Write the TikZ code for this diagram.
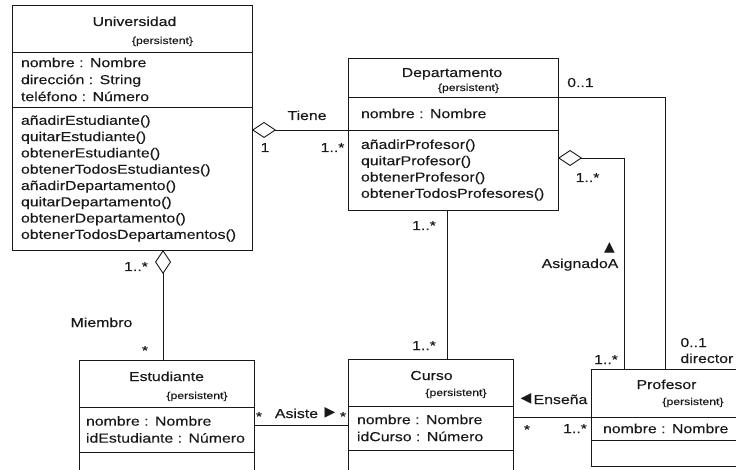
\documentclass[tikz,border=0pt]{standalone}
\usepackage{fontspec}
\setmainfont[FakeStretch=1.22,FakeBold=0.2]{Liberation Sans}
\newfontfamily\symfont{DejaVu Sans}
\usetikzlibrary{positioning,arrows.meta}

\begin{document}
\begin{tikzpicture}[x=1pt,y=-1pt,line width=0.9pt,color=black!90,
    classhead/.style={draw,inner sep=0pt,outer sep=0pt},
    attrs/.style={draw,align=left,inner ysep=0pt,outer sep=0pt,
      font=\fontsize{13}{17}\selectfont},
    ops/.style={attrs,font=\fontsize{13}{16.3}\selectfont},
    lbl/.style={anchor=base,inner sep=0pt,font=\fontsize{13}{15}\selectfont},
    tag/.style={lbl,font=\fontsize{10}{12}\selectfont},
    tri/.style={inner sep=0pt,font=\symfont\fontsize{14}{16}\selectfont},
    agg/.style={{Diamond[open,length=24pt,width=16pt]}-}]
  \useasboundingbox (0,0) rectangle (736,470);
  \clip (0,0) rectangle (736,470);

  % Universidad
  \node[classhead,minimum width=240pt,minimum height=47pt] (uni) at (132,28.5) {};
  \node[attrs,text width=222pt,inner xsep=9pt,minimum height=55pt,below=0pt of uni] (uni-a)
    {nombre : Nombre\\dirección : String\\teléfono : Número};
  \node[ops,text width=222pt,inner xsep=9pt,minimum height=143pt,below=0pt of uni-a] (uni-o)
    {añadirEstudiante()\\quitarEstudiante()\\obtenerEstudiante()\\obtenerTodosEstudiantes()\\
     añadirDepartamento()\\quitarDepartamento()\\obtenerDepartamento()\\obtenerTodosDepartamentos()};
  \node[lbl] at (134.5,26) {Universidad};
  \node[tag] at (162.5,44) {\{persistent\}};

  % Departamento
  \node[classhead,minimum width=210pt,minimum height=39pt] (dep) at (453,77.5) {};
  \node[attrs,text width=184pt,inner xsep=13pt,minimum height=33pt,below=0pt of dep] (dep-a)
    {nombre : Nombre};
  \node[ops,text width=184pt,inner xsep=13pt,minimum height=80pt,below=0pt of dep-a] (dep-o)
    {añadirProfesor()\\quitarProfesor()\\obtenerProfesor()\\obtenerTodosProfesores()};
  \node[lbl] at (452,77) {Departamento};
  \node[tag] at (468.5,91) {\{persistent\}};

  % Estudiante
  \node[classhead,minimum width=175pt,minimum height=47pt] (est) at (166.5,383.5) {};
  \node[attrs,text width=163pt,inner xsep=6pt,minimum height=45pt,below=0pt of est] (est-a)
    {\hspace*{1pt}nombre : Nombre\\\hspace*{1pt}idEstudiante : Número};
  \node[ops,text width=163pt,inner xsep=6pt,minimum height=30pt,below=0pt of est-a] (est-o) {};
  \node[lbl] at (166.5,381) {Estudiante};
  \node[tag] at (197,399) {\{persistent\}};

  % Curso
  \node[classhead,minimum width=165pt,minimum height=47pt] (cur) at (430.5,382.5) {};
  \node[attrs,text width=147pt,inner xsep=9pt,minimum height=44pt,below=0pt of cur] (cur-a)
    {nombre : Nombre\\idCurso : Número};
  \node[ops,text width=147pt,inner xsep=9pt,minimum height=30pt,below=0pt of cur-a] (cur-o) {};
  \node[lbl] at (431.5,380) {Curso};
  \node[tag] at (456,396) {\{persistent\}};

  % Profesor
  \node[classhead,minimum width=159pt,minimum height=48pt] (prof) at (670.5,393) {};
  \node[attrs,text width=135pt,inner xsep=12pt,minimum height=23pt,below=0pt of prof] (prof-a)
    {nombre : Nombre};
  \node[ops,text width=135pt,inner xsep=12pt,minimum height=26pt,below=0pt of prof-a] (prof-o) {};
  \node[lbl] at (666.5,389) {Profesor};
  \node[tag] at (693,405) {\{persistent\}};

  % Tiene
  \draw[agg] (uni-o.east |- dep-o.north west) -- (dep-o.north west);
  \node[lbl] at (307,120) {Tiene};
  \node[lbl] at (265,152) {1};
  \node[lbl] at (332.5,152) {1..*};

  % Miembro
  \draw[agg] ([xshift=31pt]uni-o.south) coordinate (um) -- (um |- est.north);
  \node[lbl] at (136,271) {1..*};
  \node[lbl] at (101.5,327) {Miembro};
  \node[lbl] at (145,355) {*};

  % director
  \draw (dep.south east) -| ([xshift=-5.5pt]prof.north);
  \node[lbl] at (580.5,87) {0..1};
  \node[lbl,anchor=base west] at (680,347) {0..1};
  \node[lbl,anchor=base west] at (680,363) {director};

  % AsignadoA
  \draw[agg] ([yshift=12pt]dep-o.east) -| ([xshift=-46.5pt]prof.north);
  \node[lbl] at (587.5,182) {1..*};
  \node[tri] at (609.5,248) {▲};
  \node[lbl] at (580,268) {AsignadoA};
  \node[lbl] at (606,364) {1..*};

  % Departamento - Curso
  \draw ([xshift=-6pt]dep-o.south) coordinate (dc) -- (dc |- cur.north);
  \node[lbl] at (424,230) {1..*};
  \node[lbl] at (424,350) {1..*};

  % Asiste
  \draw ([yshift=4pt]est-a.east) coordinate (ea) -- (ea -| cur-a.west);
  \node[lbl] at (259,421) {*};
  \node[lbl] at (296.5,418) {Asiste};
  \node[tri] at (330,413) {▶};
  \node[lbl] at (343,421) {*};

  % Enseña
  \draw (prof.south west) -- (prof.south west -| cur-a.east);
  \node[tri] at (526,399) {◀};
  \node[lbl] at (560.5,404) {Enseña};
  \node[lbl] at (527,434) {*};
  \node[lbl] at (575,433) {1..*};
\end{tikzpicture}
\end{document}
